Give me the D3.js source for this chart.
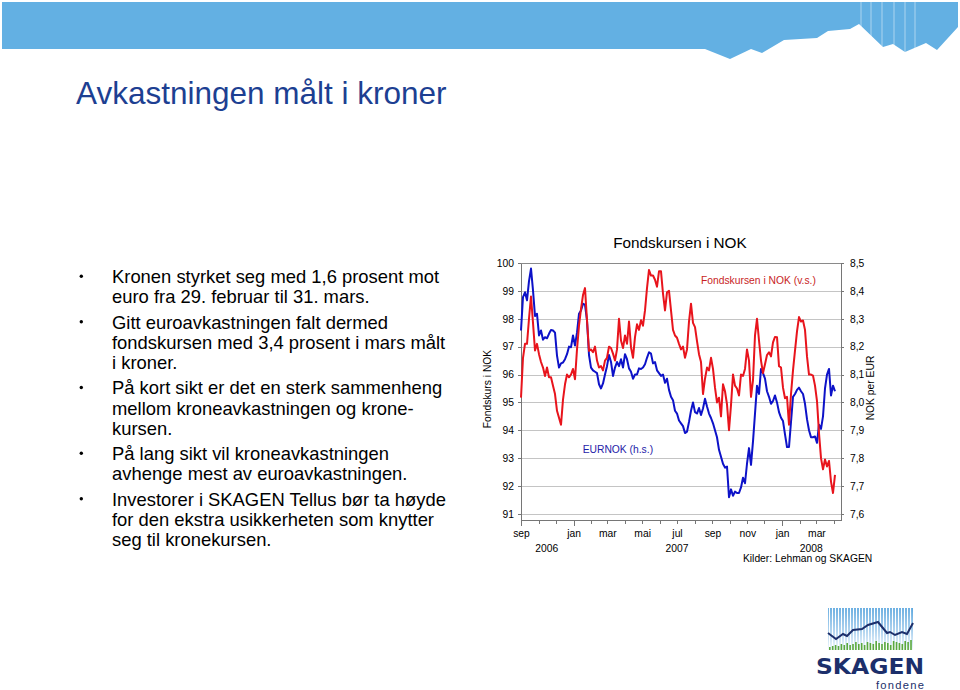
<!DOCTYPE html>
<html><head><meta charset="utf-8">
<script src="https://cdn.jsdelivr.net/npm/d3@7"></script>
<style>
html,body{margin:0;padding:0;background:#fff;}
svg{display:block;font-family:"Liberation Sans",Arial,sans-serif;}
</style></head><body>
<svg id="c" width="960" height="690"></svg>
<script>
// ---------- DATA ----------
// Fondskurs i NOK (left axis), sampled every 3.5 days from 1 Oct 2006
const fundValues = [
 95.17,96.6,97.1,97.1,98.0,98.8,97.85,96.86,97.1,96.73,
 96.45,96.25,95.95,96.25,95.9,95.9,95.6,95.3,94.7,94.45,
 94.2,95.1,95.65,96.0,95.9,96.0,96.2,95.83,96.9,97.75,
 98.35,98.85,99.1,97.94,96.85,96.9,96.8,97.0,96.5,96.25,
 96.3,96.15,96.5,96.6,97.0,96.95,96.75,96.5,96.9,98.0,
 97.22,96.95,97.4,97.1,97.9,96.98,96.6,97.34,97.8,97.6,
 97.95,97.75,98.3,99.1,99.75,99.55,99.55,99.4,99.15,99.7,
 99.7,98.9,98.3,98.95,99.0,98.3,97.6,97.4,97.32,97.1,
 96.9,97.0,96.6,96.9,97.9,98.54,97.85,97.7,97.2,96.73,
 96.45,95.3,95.85,96.25,96.15,96.6,96.2,95.53,95.0,95.17,
 94.5,95.65,95.4,94.93,94.0,94.9,96.0,95.6,95.5,95.25,
 96.0,95.95,96.2,96.9,96.5,95.2,95.8,97.4,98.0,97.22,
 96.5,96.05,96.37,96.7,96.8,96.65,97.15,97.35,97.34,96.3,
 96.25,95.53,95.15,95.2,94.2,95.3,96.15,96.86,97.55,98.06,
 97.9,97.94,97.6,96.65,96.0,96.0,95.96,95.6,95.05,93.9,
 93.0,92.6,92.95,92.7,92.9,92.16,91.75,92.4
];
// EURNOK (right axis), same sampling
const eurnokValues = [
 8.258,8.378,8.395,8.366,8.435,8.480,8.402,8.310,8.318,8.240,
 8.258,8.225,8.234,8.230,8.246,8.260,8.258,8.250,8.168,8.125,
 8.140,8.143,8.155,8.173,8.200,8.198,8.240,8.204,8.250,8.318,
 8.330,8.354,8.350,8.294,8.170,8.125,8.115,8.110,8.105,8.065,
 8.050,8.068,8.100,8.130,8.170,8.145,8.095,8.125,8.145,8.130,
 8.155,8.125,8.173,8.155,8.122,8.110,8.085,8.100,8.100,8.122,
 8.120,8.125,8.137,8.160,8.180,8.175,8.140,8.145,8.115,8.105,
 8.095,8.100,8.070,8.085,8.045,8.020,8.008,7.970,7.960,7.935,
 7.925,7.915,7.890,7.895,7.930,7.970,8.000,7.965,7.960,7.980,
 7.955,7.978,8.013,7.985,7.960,7.944,7.925,7.900,7.875,7.830,
 7.805,7.780,7.766,7.770,7.660,7.688,7.665,7.680,7.675,7.675,
 7.695,7.730,7.710,7.780,7.836,7.776,7.860,7.960,8.060,8.030,
 8.120,8.105,8.085,8.040,8.020,7.995,8.005,8.025,8.000,7.965,
 7.945,7.933,7.885,7.840,7.840,7.930,8.020,8.030,8.045,8.053,
 8.040,8.030,7.995,7.940,7.900,7.875,7.875,7.878,7.855,7.920,
 7.905,7.950,8.050,8.100,8.120,8.025,8.060,8.040
];
const seriesStart = new Date(2006, 9, 1);
const sampleStepHours = 84;
const leftTicks = [91,92,93,94,95,96,97,98,99,100];
const rightTicks = [7.6,7.7,7.8,7.9,8.0,8.1,8.2,8.3,8.4,8.5];
const monthLabels = [
 ["2006-10-01","sep"],["2007-01-01","jan"],["2007-03-01","mar"],["2007-05-01","mai"],
 ["2007-07-01","jul"],["2007-09-01","sep"],["2007-11-01","nov"],["2008-01-01","jan"],["2008-03-01","mar"]
];
const yearLabels = [["2006-11-15","2006"],["2007-07-01","2007"],["2008-02-21","2008"]];
const bulletItems = [
 ["Kronen styrket seg med 1,6 prosent mot","euro fra 29. februar til 31. mars."],
 ["Gitt euroavkastningen falt dermed","fondskursen med 3,4 prosent i mars målt","i kroner."],
 ["På kort sikt er det en sterk sammenheng","mellom kroneavkastningen og krone-","kursen."],
 ["På lang sikt vil kroneavkastningen","avhenge mest av euroavkastningen."],
 ["Investorer i SKAGEN Tellus bør ta høyde","for den ekstra usikkerheten som knytter","seg til kronekursen."]
];
const logoLine = [[0,11],[8,17],[15,12],[19,14],[25,8],[34,7],[40,3],[50,0],[59,11],[62,10],[67,13],[74,10],[79,12],[85,1]];
const logoBars = [3,4,5,4,6,5,7,5,6,8,6,7,5,8,7,6,9,7,6,8,7,5,9,8,7,6,9,8,10];

// ---------- SETUP ----------
const svg = d3.select("#c");
const parse = d3.timeParse("%Y-%m-%d");
const FONT = '"Liberation Sans",Arial,sans-serif';
const RED = "#e8141c", BLUE = "#0d12c8", NAVY = "#1c2f6b";

// Banner
svg.append("path")
 .attr("d","M2,2H958V27L937,50L926,43L905,52L893,44L883,47L859,24L850,29L828,31L817,38L784,40L762,53L751,49L730,59L705,49H2Z")
 .attr("fill","#63b0e3");
[861,871,882,894,905,915].forEach(xx=>{
 svg.append("line").attr("x1",xx).attr("x2",xx).attr("y1",2).attr("y2",52)
  .attr("stroke","#ffffff").attr("stroke-opacity",0.6).attr("stroke-width",0.8);
});

// Title
svg.append("text").attr("x",76).attr("y",104).attr("font-size",31.5)
 .attr("fill","#1d3f92").attr("font-family",FONT).text("Avkastningen målt i kroner");

// Bullets
let by = 283;
bulletItems.forEach((item,bi)=>{
 if(bi>0) by += 25.2;
 svg.append("circle").attr("cx",81.3).attr("cy",by-6.8).attr("r",1.7).attr("fill","#000");
 item.forEach((line,li)=>{
  if(li>0) by += 20.3;
  svg.append("text").attr("x",112).attr("y",by).attr("font-size",18.4)
   .attr("font-family",FONT).attr("fill","#000").text(line);
 });
});

// ---------- CHART ----------
const x = d3.scaleTime().domain([new Date(2006,9,1), new Date(2008,3,13)]).range([521,841]);
const yL = d3.scaleLinear().domain([90.8,100]).range([519.5,263]);
const yR = d3.scaleLinear().domain([7.58,8.5]).range([519.5,263]);

const dateAt = i => d3.timeHour.offset(seriesStart, i*sampleStepHours);
const fund = fundValues.map((v,i)=>({date:dateAt(i), value:v}));
const eur = eurnokValues.map((v,i)=>({date:dateAt(i), value:v}));

// Title
svg.append("text").attr("x",680).attr("y",248).attr("text-anchor","middle")
 .attr("font-size",15.3).attr("font-family",FONT).text("Fondskursen i NOK");

// gridlines
svg.append("g").selectAll("line").data(leftTicks).join("line")
 .attr("x1",521).attr("x2",841).attr("y1",d=>yL(d)+0.5).attr("y2",d=>yL(d)+0.5)
 .attr("stroke",d=>d===100?"#8a8a8a":"#c4c4c4").attr("stroke-width",1).attr("shape-rendering","crispEdges");

// left axis
const gL = svg.append("g").attr("transform","translate(521,0)")
 .call(d3.axisLeft(yL).tickValues(leftTicks).tickSize(3).tickSizeOuter(0).tickPadding(4));
// right axis
const gR = svg.append("g").attr("transform","translate(841,0)")
 .call(d3.axisRight(yR).tickValues(rightTicks).tickSize(3).tickSizeOuter(0).tickPadding(6)
  .tickFormat(d=>d3.format(".1f")(d).replace(".",",")));
// bottom axis
const labelMap = new Map(monthLabels.map(([d,l])=>[+parse(d),l]));
const monthTicks = d3.timeMonth.range(new Date(2006,9,1), new Date(2008,3,2));
const gB = svg.append("g").attr("transform","translate(0,519.5)")
 .call(d3.axisBottom(x).tickValues(monthTicks).tickSize(4).tickSizeOuter(0)
  .tickFormat(d=>labelMap.get(+d)||""));
gB.selectAll(".tick line").attr("y2",d=>(d.getMonth()===0 || +d===+new Date(2006,9,1))?6:4);
gB.selectAll(".tick text").attr("y",17.8).attr("dy",0);

[gL,gR,gB].forEach(g=>{
 g.attr("font-family",FONT).attr("font-size",10.3);
 g.selectAll("path.domain").attr("stroke","#767676").attr("shape-rendering","crispEdges");
 g.selectAll(".tick line").attr("stroke","#767676").attr("shape-rendering","crispEdges");
 g.selectAll(".tick text").attr("fill","#000");
});

// year labels
svg.append("g").selectAll("text").data(yearLabels).join("text")
 .attr("x",d=>x(parse(d[0]))).attr("y",551.7).attr("text-anchor","middle")
 .attr("font-size",10.3).attr("font-family",FONT).text(d=>d[1]);

// axis titles
svg.append("text").attr("transform","translate(491,389) rotate(-90)").attr("text-anchor","middle")
 .attr("font-size",10.3).attr("font-family",FONT).text("Fondskurs i NOK");
svg.append("text").attr("transform","translate(873.5,388) rotate(-90)").attr("text-anchor","middle")
 .attr("font-size",10.3).attr("font-family",FONT).text("NOK per EUR");

// lines
svg.append("path").datum(eur)
 .attr("d",d3.line().x(d=>x(d.date)).y(d=>yR(d.value)))
 .attr("fill","none").attr("stroke",BLUE).attr("stroke-width",2).attr("stroke-linejoin","round");
svg.append("path").datum(fund)
 .attr("d",d3.line().x(d=>x(d.date)).y(d=>yL(d.value)))
 .attr("fill","none").attr("stroke",RED).attr("stroke-width",2).attr("stroke-linejoin","round");

// series labels
svg.append("text").attr("x",701).attr("y",284).attr("font-size",10.3).attr("font-family",FONT)
 .attr("fill","#c81e24").text("Fondskursen i NOK (v.s.)");
svg.append("text").attr("x",582.7).attr("y",452.5).attr("font-size",10.3).attr("font-family",FONT)
 .attr("fill","#1e22a8").text("EURNOK (h.s.)");

// source
svg.append("text").attr("x",872.3).attr("y",562).attr("text-anchor","end").attr("font-size",10.3)
 .attr("font-family",FONT).text("Kilder: Lehman og SKAGEN");

// ---------- LOGO ----------
const defs = svg.append("defs");
const gr = defs.append("linearGradient").attr("id","lg").attr("x1",0).attr("x2",0).attr("y1",0).attr("y2",1);
gr.append("stop").attr("offset","0%").attr("stop-color","#5ea8df");
gr.append("stop").attr("offset","55%").attr("stop-color","#a9d0ee");
gr.append("stop").attr("offset","100%").attr("stop-color","#f2f8fd");
const logo = svg.append("g").attr("transform","translate(828,608)");
logo.append("rect").attr("width",85).attr("height",42).attr("fill","url(#lg)");
for(let i=1;i<85;i+=3){
 logo.append("line").attr("x1",i+0.5).attr("x2",i+0.5).attr("y1",0).attr("y2",42)
  .attr("stroke","#fff").attr("stroke-width",1.2);
}
logo.selectAll("rect.bar").data(logoBars).join("rect").attr("class","bar")
 .attr("x",(d,i)=>1+i*2.9).attr("width",1.6).attr("y",d=>42-d).attr("height",d=>d).attr("fill","#5aa83e");
logo.append("path").attr("d",d3.line().x(d=>d[0]).y(d=>d[1]+14)(logoLine))
 .attr("fill","none").attr("stroke",NAVY).attr("stroke-width",2);
svg.append("text").attr("x",816).attr("y",674).attr("font-size",22).attr("font-weight","bold")
 .attr("font-family",'"DejaVu Sans",' + FONT).attr("fill",NAVY)
 .attr("textLength",108).attr("lengthAdjust","spacingAndGlyphs").text("SKAGEN");
svg.append("text").attr("x",876).attr("y",689).attr("font-size",11.2)
 .attr("font-family",FONT).attr("fill",NAVY).attr("textLength",48).attr("lengthAdjust","spacing").text("fondene");
</script>
</body></html>
